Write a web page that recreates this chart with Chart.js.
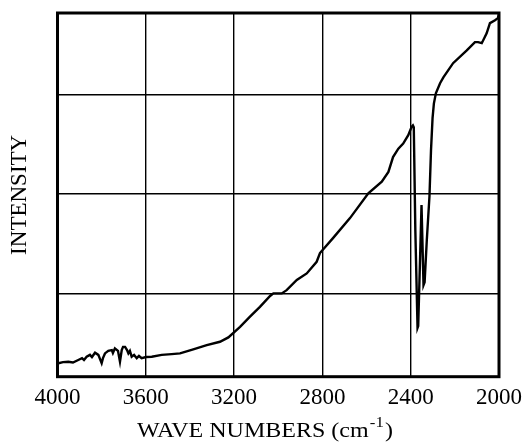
<!DOCTYPE html>
<html>
<head>
<meta charset="utf-8">
<script src="https://cdn.jsdelivr.net/npm/chart.js@4/dist/chart.umd.min.js"></script>
<style>
  html, body { margin: 0; padding: 0; background: #fff; }
  #wrap { width: 523px; height: 442px; }
</style>
</head>
<body>
<div id="wrap"><canvas id="c" width="523" height="442"></canvas></div>
<script>
// Wave numbers (cm^-1) and relative intensity (arbitrary units, 0-100)
const waveNumbers = [
  3996, 3975, 3951, 3930, 3906, 3889, 3880, 3868, 3853, 3844,
  3830, 3815, 3800, 3794, 3785, 3770, 3754, 3749, 3740, 3726,
  3717, 3709, 3703, 3694, 3685, 3679, 3672, 3664, 3653, 3641,
  3631, 3619, 3599, 3573, 3528, 3483, 3445, 3385, 3324, 3264,
  3226, 3173, 3128, 3083, 3037, 3022, 2984, 2962, 2916, 2871,
  2826, 2811, 2752, 2675, 2592, 2531, 2501, 2480, 2456, 2434,
  2411, 2396, 2390, 2386, 2379, 2369, 2366, 2358, 2351, 2347,
  2342, 2337, 2327, 2315, 2308, 2301, 2295, 2286, 2267, 2252,
  2208, 2146, 2109, 2095, 2078, 2056, 2041, 2018, 2005, 2000
];
const intensity = [
  3.7, 4.0, 4.1, 3.9, 4.6, 5.1, 4.6, 5.5, 6.0, 5.4,
  6.6, 6.0, 3.7, 5.1, 6.4, 7.1, 7.3, 6.5, 7.8, 7.1,
  4.1, 7.3, 8.2, 8.2, 7.3, 6.4, 7.1, 5.5, 6.0, 5.1,
  5.7, 5.1, 5.4, 5.5, 6.0, 6.2, 6.4, 7.5, 8.7, 9.6,
  10.8, 13.7, 16.5, 19.2, 22.2, 22.9, 22.9, 23.8, 26.6, 28.4,
  31.6, 34.0, 38.1, 43.6, 50.4, 53.6, 56.3, 60.4, 62.7, 64.1,
  66.4, 68.7, 69.1, 68.6, 40.3, 13.4, 13.9, 31.5, 47.2, 37.5,
  25.2, 26.0, 37.6, 49.6, 62.3, 71.1, 75.1, 77.9, 80.7, 82.3,
  86.2, 89.7, 92.0, 92.0, 91.7, 94.4, 97.2, 98.0, 98.6, 99.7
];
const xTickValues = [4000, 3600, 3200, 2800, 2400, 2000];
const yGridValues = [22.9, 50.4, 77.6];
const xTitleMain = 'WAVE NUMBERS (cm';
const xTitleSup = '-1';
const xTitleEnd = ')';
const yTitle = 'INTENSITY';

const serif = "'Liberation Serif', 'DejaVu Serif', 'Times New Roman', serif";

const points = waveNumbers.map((w, i) => ({ x: w, y: intensity[i] }));

const framePlugin = {
  id: 'frame',
  afterDatasetsDraw(chart) {
    const { ctx, chartArea: a } = chart;
    ctx.save();
    ctx.strokeStyle = '#000';
    ctx.lineWidth = 3;
    ctx.strokeRect(a.left, a.top, a.right - a.left, a.bottom - a.top);
    ctx.restore();
  }
};

// x-axis title with a real superscript, stretched horizontally like the scan
const xTitlePlugin = {
  id: 'xTitle',
  afterDraw(chart) {
    const { ctx, chartArea: a } = chart;
    ctx.save();
    ctx.fillStyle = '#000';
    ctx.textBaseline = 'alphabetic';
    ctx.textAlign = 'left';
    const mainFont = '20px ' + serif;
    const supFont = '14px ' + serif;
    ctx.font = mainFont;
    const w1 = ctx.measureText(xTitleMain).width;
    const w3 = ctx.measureText(xTitleEnd).width;
    ctx.font = supFont;
    const w2 = ctx.measureText(xTitleSup).width + 2;
    const total = w1 + w2 + w3;
    const targetW = 256;
    const sx = targetW / total;
    const cx = 265;
    const baseY = a.bottom + 60;
    ctx.translate(cx - targetW / 2, baseY);
    ctx.scale(sx, 1);
    ctx.font = mainFont;
    ctx.fillText(xTitleMain, 0, 0);
    ctx.font = supFont;
    ctx.fillText(xTitleSup, w1 + 1, -10);
    ctx.font = mainFont;
    ctx.fillText(xTitleEnd, w1 + w2, 0);
    ctx.restore();
  }
};

new Chart(document.getElementById('c'), {
  type: 'line',
  data: {
    datasets: [{
      data: points,
      borderColor: '#000',
      borderWidth: 2.4,
      pointRadius: 0,
      tension: 0,
      fill: false
    }]
  },
  options: {
    responsive: false,
    animation: false,
    devicePixelRatio: 1,
    layout: { padding: { left: 0, right: 24, top: 13, bottom: 0 } },
    plugins: { legend: { display: false }, tooltip: { enabled: false } },
    scales: {
      x: {
        type: 'linear',
        reverse: true,
        min: 2000,
        max: 4000,
        afterBuildTicks(scale) { scale.ticks = xTickValues.map(v => ({ value: v })); },
        afterFit(scale) {
          scale.height = 65.3;
          scale.paddingLeft = 0;
          scale.paddingRight = 0;
        },
        grid: { color: '#000', lineWidth: 1.4, drawTicks: false },
        border: { display: false },
        ticks: {
          color: '#000',
          font: { family: serif, size: 23 },
          padding: 7,
          maxRotation: 0,
          autoSkip: false,
          callback: v => String(v)
        },
        title: { display: false }
      },
      y: {
        min: 0,
        max: 100,
        afterBuildTicks(scale) { scale.ticks = yGridValues.map(v => ({ value: v })); },
        afterFit(scale) { scale.width = 57.5; },
        grid: { color: '#000', lineWidth: 1.4, drawTicks: false },
        border: { display: false },
        ticks: { display: false },
        title: {
          display: true,
          text: yTitle,
          color: '#000',
          font: { family: serif, size: 23 },
          padding: { top: 6, bottom: 0 }
        }
      }
    }
  },
  plugins: [framePlugin, xTitlePlugin]
});
</script>
</body>
</html>
